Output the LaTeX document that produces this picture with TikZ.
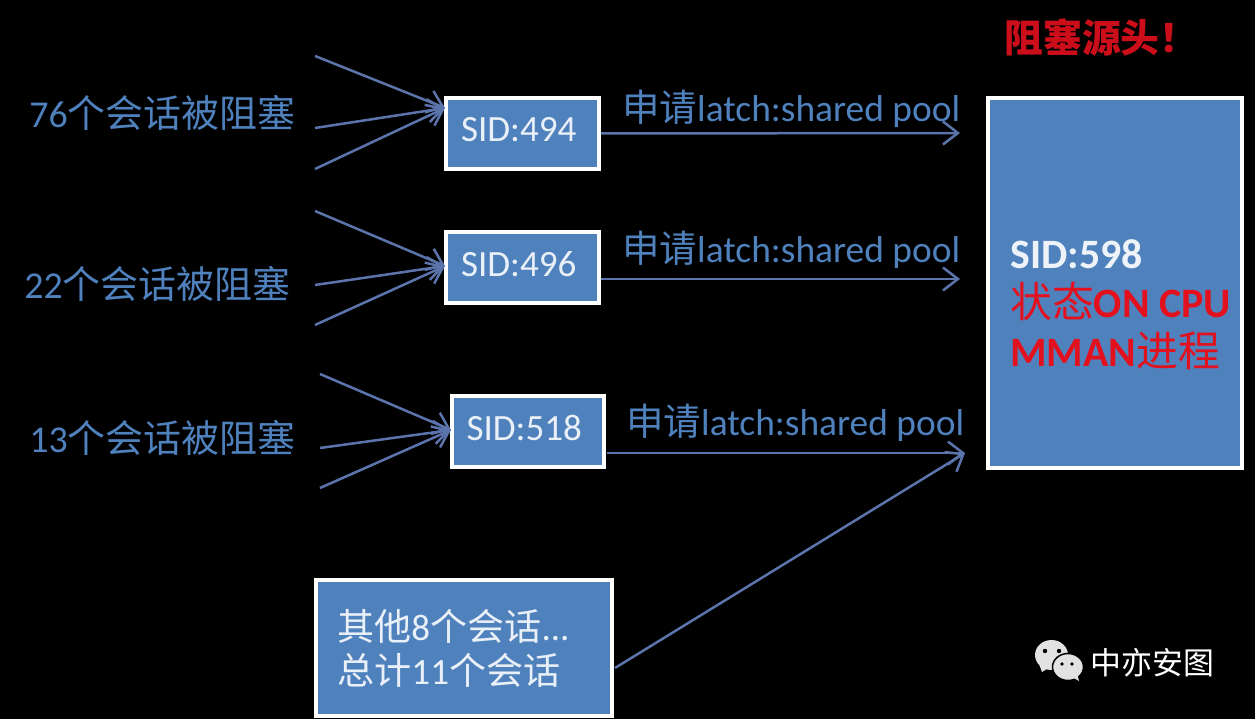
\documentclass[tikz,border=0pt]{standalone}
\usepackage{xcolor}
\usepackage{fontspec}
\setmainfont{Carlito}
\newfontfamily\cjk{Noto Sans CJK SC}
\usepackage{tikz}
\usetikzlibrary{arrows.meta}
\definecolor{boxblue}{HTML}{4F81BD}
\definecolor{linkblue}{HTML}{5B75AC}
\definecolor{alarmred}{HTML}{E3101E}
\definecolor{chatgray}{HTML}{E2E2E2}
\newcommand{\zh}[1]{{\cjk #1}}
\begin{document}
\begin{tikzpicture}[
    x=0.02cm, y=-0.02cm,
    sidbox/.style={rectangle, draw=white, fill=boxblue, line width=0.08cm, inner sep=0pt},
    sidtext/.style={text=white!88!boxblue, font=\fontsize{21.1}{25}\selectfont},
    sidsmall/.style={sidbox, sidtext, minimum width=3.06cm, minimum height=1.42cm, text width=2.46cm, align=left, text depth=0.16cm},
    blocked/.style={text=boxblue, font=\fontsize{21.6}{25}\selectfont, inner sep=0pt},
    request/.style={text=boxblue, font=\fontsize{21.3}{25}\selectfont, inner sep=0pt},
    link/.style={draw=linkblue, line width=0.05cm, -{Straight Barb[length=3mm,width=4.6mm,line width=0.05cm]}}
]
\fill[black] (0,0) rectangle (1255,719);
\useasboundingbox (0,0) rectangle (1255,719);

\node[sidsmall] (sid494) at (522.5,133.5) {SID:494};
\node[sidsmall] (sid496) at (522.5,267.5) {SID:496};
\node[sidsmall] (sid518) at (528,431.5) {SID:518};
\node[sidbox, minimum width=5.94cm, minimum height=2.72cm] (others) at (464,648) {};
\node[sidbox, minimum width=5.08cm, minimum height=7.4cm] (sid598) at (1115,283) {};

\node[sidtext, anchor=west, align=left, inner sep=0pt] (othertext) at (337,648) {\zh{其他}8\zh{个会话}...\\\zh{总计}11\zh{个会话}};
\node[anchor=west, align=left, inner sep=0pt, font=\fontsize{23.8}{27.9}\selectfont\bfseries, text=alarmred] (sourcetext) at (1010,305)
    {\textcolor{white!90!boxblue}{SID:598}\\\zh{\mdseries 状态}ON CPU\\MMAN\zh{\mdseries 进程}};
\node[anchor=west, inner sep=0pt, text=alarmred!90!black, font=\fontsize{22.1}{25}\selectfont\bfseries] (source) at (1004,37) {\zh{阻塞源头！}};

\node[blocked, anchor=west] (count76) at (29,113) {76\zh{个会话被阻塞}};
\node[blocked, anchor=west] (count22) at (24,284) {22\zh{个会话被阻塞}};
\node[blocked, anchor=west] (count13) at (29,438) {13\zh{个会话被阻塞}};

\node[request, anchor=west] (req494) at (622,109) {\zh{申请}latch:shared pool};
\node[request, anchor=west] (req496) at (622,250) {\zh{申请}latch:shared pool};
\node[request, anchor=west] (req518) at (626,423) {\zh{申请}latch:shared pool};

\coordinate (in494) at (445,108);
\coordinate (in496) at (445,266);
\coordinate (in518) at (451,430);
\coordinate (a1) at (315,56);
\coordinate (a2) at (315,128);
\coordinate (a3) at (315,169);
\coordinate (b1) at (315,211);
\coordinate (b2) at (315,285);
\coordinate (b3) at (315,325);
\coordinate (c1) at (320,374);
\coordinate (c2) at (320,448);
\coordinate (c3) at (320,488);
\coordinate (out494) at (960,133);
\coordinate (out496) at (960,279);
\coordinate (out518) at (965,453);
\coordinate (start496) at (601,279);
\coordinate (start518) at (607,453);
\coordinate (startother) at (615,668);

\draw[link] (a1) -- (in494);
\draw[link] (a2) -- (in494);
\draw[link] (a3) -- (in494);
\draw[link] (b1) -- (in496);
\draw[link] (b2) -- (in496);
\draw[link] (b3) -- (in496);
\draw[link] (c1) -- (in518);
\draw[link] (c2) -- (in518);
\draw[link] (c3) -- (in518);
\draw[link] (sid494.east) -- (out494);
\draw[link] (start496) -- (out496);
\draw[link] (start518) -- (out518);
\draw[link] (startother) -- (out518);

\fill[chatgray] (1051.5,655) ellipse (16.5 and 15);
\fill[chatgray] (1039,664) -- (1042,672) -- (1050,667) -- cycle;
\fill[chatgray, draw=black, line width=0.03cm] (1068,667) ellipse (15.5 and 13.5);
\fill[chatgray] (1072,677) -- (1079,681) -- (1077,673) -- cycle;
\fill[black] (1045,651) circle (2.2) (1059,651) circle (2.2) (1062,664) circle (1.8) (1072,664) circle (1.8);
\node[anchor=west, inner sep=0pt, text=white, font=\fontsize{17.6}{20}\selectfont] (brand) at (1090,663) {\zh{中亦安图}};
\end{tikzpicture}
\end{document}
